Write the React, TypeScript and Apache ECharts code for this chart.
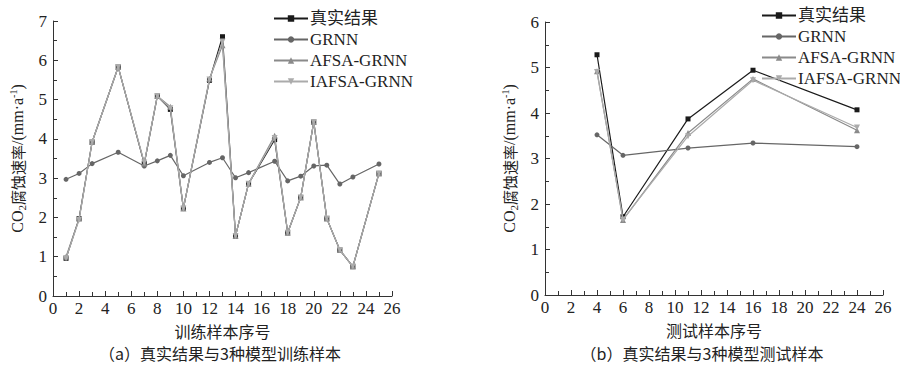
import React, { useEffect, useRef } from "react";
import * as echarts from "echarts";

const seriesNames = ["真实结果", "GRNN", "AFSA-GRNN", "IAFSA-GRNN"];

const trainX = [1, 2, 3, 5, 7, 8, 9, 10, 12, 13, 14, 15, 17, 18, 19, 20, 21, 22, 23, 25];
const trainTrue = [0.96, 1.97, 3.92, 5.83, 3.37, 5.09, 4.75, 2.23, 5.49, 6.6, 1.53, 2.86, 3.98, 1.61, 2.51, 4.43, 1.97, 1.17, 0.75, 3.12];
const trainGRNN = [2.97, 3.12, 3.37, 3.66, 3.31, 3.44, 3.58, 3.06, 3.40, 3.52, 3.01, 3.14, 3.43, 2.93, 3.05, 3.31, 3.33, 2.85, 3.03, 3.36];
const trainAFSA = [1.0, 1.97, 3.92, 5.83, 3.37, 5.09, 4.82, 2.23, 5.53, 6.38, 1.53, 2.86, 4.08, 1.61, 2.51, 4.43, 1.97, 1.17, 0.75, 3.12];
const trainIAFSA = [0.96, 1.94, 3.92, 5.83, 3.4, 5.09, 4.78, 2.23, 5.51, 6.48, 1.53, 2.86, 4.02, 1.61, 2.51, 4.43, 1.97, 1.17, 0.75, 3.12];

const testX = [4, 6, 11, 16, 24];
const testTrue = [5.28, 1.72, 3.87, 4.94, 4.07];
const testGRNN = [3.52, 3.07, 3.23, 3.34, 3.26];
const testAFSA = [4.92, 1.65, 3.56, 4.75, 3.62];
const testIAFSA = [4.9, 1.66, 3.49, 4.72, 3.68];

const xTicks = { min: 0, max: 26, interval: 2 };
const yTicksTrain = { min: 0, max: 7, interval: 1 };
const yTicksTest = { min: 0, max: 6, interval: 1 };

const colors = ["#1a1a1a", "#666666", "#8a8a8a", "#ababab"];
const symbols = ["rect", "circle", "triangle", "triangle"];
const symbolRotates = [0, 0, 0, 180];
const symbolSizes = [5, 5, 6, 6];

const serif = "'Liberation Serif', 'Times New Roman', serif";
const cjk = "'Noto Sans CJK SC', sans-serif";

function zip(xs: number[], ys: number[]) {
  return xs.map((x, i) => [x, ys[i]]);
}

function makeXAxis(gridIndex: number, name: string) {
  return {
    type: "value",
    gridIndex,
    min: xTicks.min,
    max: xTicks.max,
    interval: xTicks.interval,
    name,
    nameLocation: "middle",
    nameGap: 22,
    nameTextStyle: { fontFamily: cjk, fontSize: 16, lineHeight: 18, color: "#222" },
    axisLine: { show: true, lineStyle: { color: "#333", width: 1 } },
    axisTick: { show: true, inside: true, length: 5, lineStyle: { color: "#333" } },
    minorTick: { show: true, splitNumber: 2, length: 4, lineStyle: { color: "#333" } },
    axisLabel: { fontFamily: serif, fontSize: 17, color: "#222", margin: 4 },
    splitLine: { show: false },
  };
}

function makeYAxis(gridIndex: number, t: { min: number; max: number; interval: number }) {
  return {
    type: "value",
    gridIndex,
    min: t.min,
    max: t.max,
    interval: t.interval,
    name: "{a|CO}{s|2}{c|腐蚀速率}{a|/(mm·a}{p|-1}{a|)}",
    nameLocation: "middle",
    nameGap: 26,
    nameRotate: 90,
    nameTextStyle: {
      color: "#222",
      rich: {
        a: { fontFamily: serif, fontSize: 16, color: "#222" },
        c: { fontFamily: cjk, fontSize: 15, color: "#222" },
        s: { fontFamily: serif, fontSize: 11, color: "#222", verticalAlign: "bottom", padding: [8, 0, 0, 0] },
        p: { fontFamily: serif, fontSize: 10, color: "#222", verticalAlign: "top", padding: [0, 0, 8, 0] },
      },
    },
    axisLine: { show: true, lineStyle: { color: "#333", width: 1 } },
    axisTick: { show: true, inside: true, length: 5, lineStyle: { color: "#333" } },
    minorTick: { show: true, splitNumber: 2, length: 4, lineStyle: { color: "#333" } },
    axisLabel: { fontFamily: serif, fontSize: 17, color: "#222", margin: 6 },
    splitLine: { show: false },
  };
}

function makeSeries(idx: number, axisIndex: number, xs: number[], ys: number[]) {
  return {
    name: seriesNames[idx],
    type: "line",
    xAxisIndex: axisIndex,
    yAxisIndex: axisIndex,
    data: zip(xs, ys),
    symbol: symbols[idx],
    symbolRotate: symbolRotates[idx],
    symbolSize: symbolSizes[idx],
    showAllSymbol: true,
    lineStyle: { color: colors[idx], width: 1.2 },
    itemStyle: { color: colors[idx] },
    z: 2 + idx,
  };
}

function makeLegend(left: number, top: number) {
  return {
    orient: "vertical",
    left,
    top,
    itemWidth: 34,
    itemHeight: 8,
    itemGap: 4,
    data: seriesNames,
    textStyle: {
      fontFamily: "'Liberation Serif', 'Noto Sans CJK SC', serif",
      fontSize: 17,
      color: "#222",
      padding: [0, 0, 0, -3],
    },
    selectedMode: false,
  };
}

function makeCaption(text: string, center: number) {
  return {
    text,
    left: center,
    top: 344,
    textAlign: "center",
    textStyle: { fontFamily: cjk, fontSize: 16, lineHeight: 18, fontWeight: "normal", color: "#222" },
    padding: 0,
  };
}

export default function App() {
  const ref = useRef<HTMLDivElement>(null);
  useEffect(() => {
    if (!ref.current) return;
    const chart = echarts.init(ref.current, undefined, { renderer: "svg" });
    chart.setOption({
      animation: false,
      backgroundColor: "#ffffff",
      grid: [
        { left: 53, top: 21, width: 339, height: 275 },
        { left: 545, top: 22, width: 338, height: 273 },
      ],
      legend: [makeLegend(268, 5), makeLegend(756, 2)],
      xAxis: [makeXAxis(0, "训练样本序号"), makeXAxis(1, "测试样本序号")],
      yAxis: [makeYAxis(0, yTicksTrain), makeYAxis(1, yTicksTest)],
      title: [
        makeCaption("（a）真实结果与3种模型训练样本", 220),
        makeCaption("（b）真实结果与3种模型测试样本", 702),
      ],
      series: [
        makeSeries(0, 0, trainX, trainTrue),
        makeSeries(1, 0, trainX, trainGRNN),
        makeSeries(2, 0, trainX, trainAFSA),
        makeSeries(3, 0, trainX, trainIAFSA),
        makeSeries(0, 1, testX, testTrue),
        makeSeries(1, 1, testX, testGRNN),
        makeSeries(2, 1, testX, testAFSA),
        makeSeries(3, 1, testX, testIAFSA),
      ],
    });
    return () => chart.dispose();
  }, []);
  return (
    <div
      ref={ref}
      style={{ position: "absolute", left: 0, top: 0, width: 900, height: 366, background: "#fff" }}
    />
  );
}
